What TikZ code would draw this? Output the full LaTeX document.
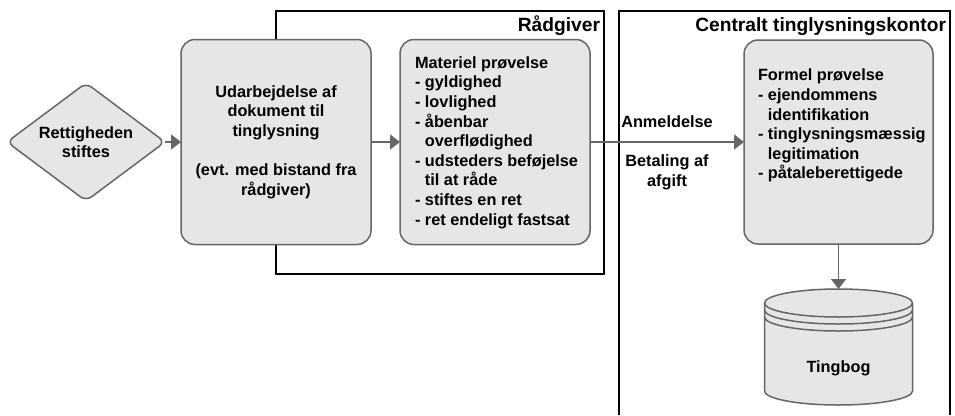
\documentclass[tikz,border=0pt]{standalone}
\usepackage{fontspec}
\setmainfont{Liberation Sans}
\usetikzlibrary{positioning,shapes.geometric,arrows.meta}

\definecolor{boxfill}{HTML}{E6E6E6}
\definecolor{boxline}{HTML}{666666}
\newcommand{\ind}{\hphantom{- }}

\begin{document}
\begin{tikzpicture}[
    x=1pt, y=1pt,
    every node/.style={font=\bfseries\fontsize{16.3}{19.6}\selectfont, outer sep=0pt},
    process/.style={draw=boxline, fill=boxfill, line width=1.5pt, rounded corners=14pt, minimum width=190pt, minimum height=205pt, inner sep=0pt, align=center},
    decision/.style={diamond, draw=boxline, fill=boxfill, line width=1.5pt, rounded corners=7pt, minimum width=158pt, minimum height=118pt, aspect=1.34, inner sep=0pt, align=center},
    frame/.style={draw=black, line width=1.2pt},
    frametitle/.style={font=\bfseries\fontsize{19.2}{23}\selectfont, inner sep=0pt, anchor=base east},
    flow/.style={draw=boxline, line width=1.5pt, -{Triangle[length=10pt, width=15pt]}},
    steps/.style={align=left, inner sep=0pt, anchor=north west}
    ]

    \useasboundingbox (0,0) rectangle (955,-415);

    % frames
    \draw[frame] (276,-11) rectangle (604,-274);
    \node[frametitle] (raadtitle) at (600,-31) {Rådgiver};
    \draw[frame] (619,-415) |- (950,-11) -- (950,-415);
    \node[frametitle] (ctktitle) at (946,-31) {Centralt tinglysningskontor};

    \node[decision] (rett) at (86,-142) {Rettigheden\\stiftes};
    \node[process, right=16pt of rett] (udarb) {Udarbejdelse af\\dokument til\\tinglysning\\~\\(evt. med bistand fra\\rådgiver)};
    \node[process, right=29pt of udarb] (mat) {};
    \node[steps] (matlist) at ([xshift=15pt, yshift=-17pt]mat.north west)
      {Materiel prøvelse\\- gyldighed\\- lovlighed\\- åbenbar\\\ind overflødighed\\- udsteders beføjelse\\\ind til at råde\\- stiftes en ret\\- ret endeligt fastsat};
    \node[process, right=154pt of mat, minimum width=189pt, minimum height=204pt] (formel) {};
    \node[steps] (formellist) at ([xshift=14pt, yshift=-29pt]formel.north west)
      {Formel prøvelse\\- ejendommens\\\ind identifikation\\- tinglysningsmæssig\\\ind legitimation\\- påtaleberettigede};

    % tingbog as data store
    \node[below=45pt of formel, minimum width=148pt, minimum height=116pt, inner sep=0pt] (tingbog) {};
    \path[draw=boxline, fill=boxfill, line width=1.5pt]
      ([yshift=-14pt]tingbog.north west) -- ([yshift=14pt]tingbog.south west)
      arc[start angle=180, end angle=360, x radius=74pt, y radius=14pt]
      -- ([yshift=-14pt]tingbog.north east)
      arc[start angle=0, end angle=180, x radius=74pt, y radius=14pt] -- cycle;
    \foreach \dy in {14,21,28}
      \draw[boxline, line width=1.5pt] ([yshift=-\dy pt]tingbog.north west)
        arc[start angle=180, end angle=360, x radius=74pt, y radius=14pt];
    \node (tingbogtext) at ([yshift=-21pt]tingbog.center) {Tingbog};

    \draw[flow] (rett) -- (udarb);
    \draw[flow] (udarb) -- (mat);
    \draw[flow] (mat) -- node[above=14pt, inner sep=0pt] (anm) {Anmeldelse}
      node[below=13pt, inner sep=0pt, align=center] (bet) {Betaling af\\afgift} (formel);
    \draw[flow] (formel) -- (tingbog);

\end{tikzpicture}
\end{document}
